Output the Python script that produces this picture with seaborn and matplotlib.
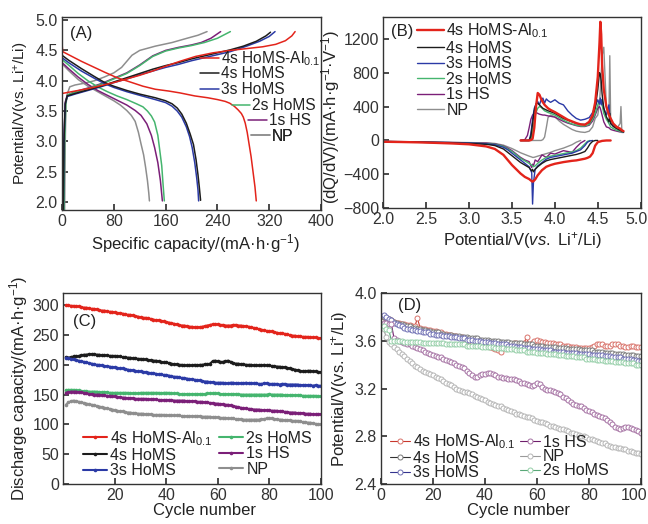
import numpy as np
import matplotlib
matplotlib.use("Agg")
import matplotlib.pyplot as plt
from matplotlib.transforms import ScaledTranslation
import seaborn as sns

names = ["4s HoMS-Al$_{0.1}$", "4s HoMS", "3s HoMS", "2s HoMS", "1s HS", "NP"]
colors = ["#e3241b", "#1c1c1c", "#2b3aa6", "#45b56e", "#7b1f78", "#8e8e8e"]

# ---- (A) charge / discharge profiles: capacity (mAh/g), potential (V)
a_dis_cap = [
    [0, 1, 10, 30, 50, 66, 85, 108, 125, 144, 165, 182, 205, 225, 240, 252, 259, 266, 272, 277, 280, 283, 286, 289, 292, 295, 298, 300],
    [0, 10, 30, 50, 66, 80, 100, 120, 144, 160, 170, 178, 185, 192, 198, 203, 207, 210, 212, 214],
    [0, 10, 30, 50, 66, 80, 100, 120, 144, 160, 170, 178, 185, 192, 197, 201, 205, 208, 210, 211],
    [0, 10, 25, 40, 55, 70, 85, 100, 115, 125, 132, 138, 143, 148, 151, 154, 156, 158],
    [0, 10, 25, 40, 55, 70, 85, 100, 113, 122, 131, 138, 143, 148, 152, 155],
    [0, 10, 25, 40, 55, 70, 80, 90, 100, 107, 113, 118, 122, 126, 129, 132, 134, 135],
]
a_dis_v = [
    [4.62, 4.48, 4.43, 4.32, 4.22, 4.14, 4.05, 3.97, 3.91, 3.86, 3.83, 3.80, 3.75, 3.72, 3.69, 3.66, 3.63, 3.58, 3.52, 3.46, 3.40, 3.30, 3.15, 2.95, 2.75, 2.50, 2.25, 2.02],
    [4.42, 4.34, 4.20, 4.07, 3.97, 3.91, 3.84, 3.78, 3.72, 3.67, 3.62, 3.55, 3.45, 3.30, 3.12, 2.95, 2.70, 2.45, 2.25, 2.03],
    [4.38, 4.30, 4.16, 4.04, 3.95, 3.89, 3.82, 3.76, 3.69, 3.64, 3.58, 3.50, 3.40, 3.24, 3.08, 2.90, 2.65, 2.40, 2.20, 2.02],
    [4.35, 4.26, 4.12, 4.00, 3.90, 3.82, 3.75, 3.69, 3.62, 3.57, 3.50, 3.42, 3.32, 3.10, 2.85, 2.60, 2.30, 2.02],
    [4.30, 4.20, 4.06, 3.94, 3.84, 3.76, 3.68, 3.60, 3.51, 3.43, 3.29, 3.10, 2.90, 2.65, 2.35, 2.02],
    [4.28, 4.17, 4.02, 3.91, 3.82, 3.73, 3.67, 3.60, 3.51, 3.43, 3.33, 3.15, 2.96, 2.78, 2.58, 2.35, 2.15, 2.02],
]
a_chg_cap = [
    [0, 20, 40, 60, 80, 100, 120, 140, 160, 182, 206, 233, 260, 285, 310, 330, 345, 355, 360],
    [2, 3, 5, 8, 20, 40, 60, 80, 100, 120, 140, 160, 180, 200, 220, 240, 260, 280, 300, 315, 322],
    [2, 3, 5, 8, 20, 40, 60, 80, 100, 120, 140, 160, 180, 200, 220, 240, 260, 285, 305, 320, 329],
    [3, 4, 6, 9, 20, 40, 60, 80, 100, 120, 140, 160, 180, 200, 220, 240, 260],
    [2, 3, 5, 8, 20, 40, 60, 80, 100, 120, 140, 160, 180, 200, 215, 230, 245],
    [4, 5, 6, 8, 12, 20, 35, 50, 65, 80, 92, 100, 108, 120, 144, 170, 193, 210, 224],
]
a_chg_v = [
    [3.79, 3.83, 3.87, 3.92, 3.97, 4.03, 4.09, 4.16, 4.24, 4.32, 4.40, 4.46, 4.50, 4.53, 4.56, 4.60, 4.66, 4.74, 4.81],
    [1.85, 3.00, 3.62, 3.75, 3.79, 3.85, 3.91, 3.98, 4.05, 4.12, 4.19, 4.25, 4.30, 4.36, 4.41, 4.46, 4.51, 4.57, 4.65, 4.74, 4.80],
    [1.85, 3.00, 3.62, 3.74, 3.78, 3.84, 3.90, 3.97, 4.03, 4.10, 4.16, 4.22, 4.27, 4.33, 4.38, 4.43, 4.48, 4.57, 4.65, 4.73, 4.81],
    [1.85, 3.00, 3.65, 3.77, 3.81, 3.87, 3.94, 4.03, 4.12, 4.25, 4.40, 4.49, 4.54, 4.58, 4.63, 4.70, 4.81],
    [1.85, 3.00, 3.65, 3.76, 3.82, 3.88, 3.95, 4.04, 4.13, 4.26, 4.41, 4.50, 4.55, 4.59, 4.63, 4.70, 4.81],
    [1.85, 3.00, 3.60, 3.78, 3.90, 3.93, 3.96, 4.00, 4.06, 4.13, 4.22, 4.32, 4.42, 4.50, 4.57, 4.63, 4.70, 4.75, 4.81],
]

# ---- (B) dQ/dV
b_chg_v = [3.60, 3.65, 3.68, 3.70, 3.72, 3.74, 3.76, 3.78, 3.80, 3.82, 3.84, 3.86, 3.88, 3.90, 3.92, 3.95,
           4.00, 4.05, 4.10, 4.15, 4.20, 4.25, 4.30, 4.35, 4.40, 4.44, 4.47, 4.50, 4.52, 4.53, 4.54, 4.55,
           4.57, 4.60, 4.63, 4.64, 4.65, 4.68, 4.72, 4.76, 4.77, 4.78, 4.80]
b_chg = [
    [0, 0, 0, 0, 5, 20, 150, 400, 560, 540, 490, 450, 420, 400, 380, 360,
     335, 305, 275, 245, 225, 205, 190, 185, 220, 300, 450, 750, 1150, 1400, 1250, 900,
     600, 400, 300, 280, 260, 200, 160, 140, 130, 120, 110],
    [0, 0, 0, 0, 50, 200, 350, 430, 440, 420, 400, 380, 370, 360, 350, 340,
     320, 290, 260, 240, 220, 200, 190, 190, 210, 280, 380, 600, 800, 780, 700, 550,
     380, 280, 220, 320, 200, 170, 140, 120, 115, 110, 100],
    [0, 0, 0, 0, 80, 250, 380, 430, 460, 420, 480, 500, 440, 490, 470, 450,
     480, 440, 420, 350, 300, 260, 240, 250, 270, 330, 400, 480, 430, 500, 420, 480,
     380, 300, 420, 250, 200, 170, 150, 130, 120, 110, 100],
    [0, 0, 0, 0, 10, 100, 250, 330, 380, 400, 390, 370, 350, 340, 330, 320,
     300, 270, 240, 215, 195, 180, 170, 170, 190, 250, 320, 420, 470, 450, 480, 420,
     320, 250, 200, 180, 160, 140, 120, 110, 105, 100, 95],
    [0, 10, 60, 150, 250, 300, 320, 330, 320, 310, 305, 300, 300, 295, 290, 285,
     275, 250, 225, 205, 190, 175, 165, 165, 180, 230, 300, 380, 400, 380, 340, 300,
     220, 160, 150, 140, 130, 120, 110, 100, 100, 95, 95],
    [0, 0, 0, 0, 0, 0, 0, 0, 0, 0, 0, 10, 40, 150, 270, 300,
     280, 230, 190, 160, 130, 110, 100, 95, 110, 160, 260, 300, 450, 600, 800, 1000,
     1100, 400, 300, 1000, 250, 160, 140, 200, 400, 130, 100],
]
b_dis_v = [4.65, 4.60, 4.55, 4.50, 4.47, 4.44, 4.41, 4.38, 4.35, 4.30, 4.25, 4.20, 4.10, 4.00, 3.95, 3.90,
           3.85, 3.80, 3.77, 3.75, 3.74, 3.73, 3.70, 3.65, 3.60, 3.55, 3.50, 3.45, 3.40, 3.30, 3.20,
           3.00, 2.80, 2.60, 2.40, 2.20, 2.00]
nan = np.nan
b_dis = [
    [0, 0, -5, -20, -60, -150, -190, -205, -215, -225, -235, -240, -255, -275, -290, -310,
     -350, -410, -460, -480, -485, -480, -455, -430, -390, -340, -290, -230, -170, -100, -70,
     -45, -35, -28, -22, -18, -15],
    [nan, nan, nan, 0, 0, -10, -40, -90, -130, -150, -165, -175, -195, -215, -225, -240,
     -270, -310, -340, -370, -340, -360, -320, -290, -260, -220, -180, -140, -100, -60, -45,
     -35, -30, -25, -20, -16, -13],
    [nan, nan, nan, nan, nan, 0, -5, -20, -60, -110, -130, -150, -170, -190, -200, -220,
     -260, -300, -340, -500, -750, -380, -310, -270, -230, -190, -150, -110, -80, -50, -40,
     -30, -26, -22, -18, -15, -12],
    [nan, nan, nan, nan, nan, nan, 0, -10, -40, -90, -120, -135, -155, -175, -185, -200,
     -230, -270, -300, -310, -300, -290, -270, -240, -210, -170, -130, -100, -70, -45, -38,
     -30, -26, -22, -18, -15, -12],
    [nan, nan, nan, nan, nan, nan, nan, nan, 0, -30, -80, -140, -120, -160, -150, -200,
     -170, -250, -230, -300, -280, -320, -250, -230, -200, -160, -120, -90, -65, -40, -32,
     -28, -24, -20, -17, -14, -12],
    [nan, nan, nan, nan, nan, nan, nan, nan, nan, 0, -20, -50, -90, -120, -140, -155,
     -170, -185, -195, -200, -200, -195, -185, -165, -145, -120, -95, -75, -55, -35, -28,
     -25, -22, -19, -16, -13, -11],
]

# ---- (C) discharge capacity vs cycle
cycles = list(range(1, 101))
c_cap = [
    [300, 300, 299, 299, 298, 298, 297, 296, 296, 295, 294, 294, 293, 292, 291, 291, 290, 289, 289, 288,
     287, 287, 286, 285, 284, 284, 283, 282, 281, 280, 279, 279, 278, 277, 276, 275, 275, 274, 273, 272,
     271, 270, 269, 268, 267, 266, 266, 265, 264, 264, 263, 263, 263, 264, 265, 266, 267, 268, 268, 268,
     267, 267, 266, 266, 266, 267, 267, 266, 266, 265, 265, 264, 263, 262, 261, 260, 259, 258, 257, 256,
     256, 255, 254, 253, 253, 252, 251, 250, 249, 249, 248, 248, 247, 247, 247, 246, 246, 246, 245, 245],
    [213, 212, 213, 214, 214, 215, 216, 217, 217, 218, 218, 218, 217, 217, 216, 216, 216, 215, 215, 215,
     214, 214, 213, 213, 212, 212, 211, 211, 210, 210, 209, 209, 208, 208, 207, 207, 206, 205, 204, 204,
     203, 202, 201, 201, 200, 200, 199, 199, 199, 199, 200, 199, 200, 200, 201, 201, 202, 206, 207, 206,
     205, 205, 206, 207, 205, 203, 202, 202, 201, 201, 200, 200, 200, 199, 199, 199, 199, 200, 199, 199,
     198, 198, 197, 197, 196, 196, 195, 194, 193, 192, 191, 190, 189, 189, 190, 190, 189, 189, 188, 188],
    [212, 211, 210, 209, 208, 207, 206, 205, 204, 203, 202, 201, 200, 200, 199, 198, 198, 197, 196, 196,
     195, 194, 194, 193, 192, 191, 191, 190, 189, 189, 188, 188, 187, 186, 186, 185, 184, 184, 183, 183,
     182, 181, 180, 180, 179, 178, 178, 177, 176, 176, 175, 174, 174, 173, 172, 172, 171, 171, 170, 170,
     170, 170, 169, 169, 170, 170, 169, 169, 169, 169, 170, 169, 169, 169, 169, 168, 168, 169, 169, 168,
     168, 168, 168, 167, 168, 168, 167, 167, 167, 167, 167, 166, 166, 166, 166, 166, 165, 166, 165, 165],
    [157, 158, 158, 158, 157, 157, 156, 156, 156, 155, 155, 155, 155, 154, 154, 154, 154, 153, 153, 153,
     153, 153, 153, 153, 153, 152, 152, 152, 152, 153, 153, 153, 153, 153, 153, 153, 153, 152, 153, 153,
     153, 152, 152, 152, 151, 151, 151, 151, 151, 151, 151, 151, 151, 151, 151, 152, 152, 152, 152, 152,
     151, 151, 151, 151, 151, 151, 151, 151, 150, 150, 150, 150, 150, 150, 150, 150, 150, 150, 150, 151,
     150, 150, 150, 150, 150, 149, 149, 149, 149, 149, 149, 149, 148, 148, 148, 148, 148, 148, 147, 147],
    [153, 154, 155, 155, 155, 154, 154, 153, 152, 151, 151, 150, 150, 150, 149, 149, 148, 148, 147, 147,
     146, 146, 145, 145, 144, 144, 144, 143, 143, 143, 143, 143, 142, 142, 142, 142, 141, 141, 141, 141,
     141, 141, 140, 140, 140, 140, 140, 139, 139, 139, 139, 138, 138, 138, 137, 137, 136, 136, 135, 135,
     134, 134, 133, 133, 132, 131, 130, 129, 128, 127, 127, 126, 126, 125, 125, 125, 124, 124, 124, 124,
     123, 123, 123, 122, 122, 121, 121, 120, 120, 120, 119, 119, 119, 118, 118, 118, 117, 117, 117, 117],
    [133, 137, 139, 140, 139, 138, 137, 136, 135, 134, 133, 132, 131, 130, 129, 128, 127, 126, 125, 124,
     123, 122, 122, 121, 120, 120, 119, 119, 118, 118, 118, 117, 117, 117, 116, 116, 116, 116, 116, 115,
     115, 115, 115, 115, 115, 114, 114, 114, 114, 114, 114, 114, 114, 113, 113, 113, 113, 112, 112, 112,
     111, 111, 111, 110, 110, 110, 109, 109, 109, 108, 108, 108, 108, 108, 108, 108, 109, 109, 110, 110,
     110, 109, 109, 108, 108, 107, 107, 107, 106, 106, 106, 105, 104, 104, 103, 103, 102, 101, 100, 100],
]

# ---- (D) mean discharge potential vs cycle
d_names = [names[0], names[1], names[2], names[4], names[5], names[3]]
d_line = ["#c8372d", "#333333", "#34348f", "#6e1e6b", "#9a9a9a", "#5aa878"]
d_edge = ["#d9736b", "#7a7a7a", "#7070b4", "#a673a4", "#b5b5b5", "#95cfa8"]
d_pot = [
    [3.80, 3.79, 3.78, 3.77, 3.76, 3.75, 3.75, 3.74, 3.74, 3.73, 3.73, 3.72, 3.72, 3.79, 3.71, 3.70, 3.70, 3.69, 3.69, 3.68,
     3.68, 3.67, 3.67, 3.66, 3.66, 3.65, 3.65, 3.64, 3.64, 3.63, 3.63, 3.62, 3.61, 3.60, 3.59, 3.58, 3.58, 3.57, 3.57, 3.56,
     3.56, 3.55, 3.54, 3.53, 3.52, 3.51, 3.56, 3.57, 3.57, 3.57, 3.58, 3.58, 3.57, 3.57, 3.58, 3.63, 3.56, 3.58, 3.60, 3.61,
     3.60, 3.59, 3.59, 3.58, 3.58, 3.58, 3.57, 3.57, 3.57, 3.56, 3.56, 3.56, 3.55, 3.55, 3.55, 3.54, 3.54, 3.54, 3.54, 3.54,
     3.55, 3.56, 3.57, 3.57, 3.57, 3.56, 3.56, 3.56, 3.57, 3.57, 3.57, 3.56, 3.56, 3.55, 3.55, 3.56, 3.56, 3.55, 3.55, 3.55],
    [3.80, 3.79, 3.78, 3.77, 3.76, 3.75, 3.74, 3.74, 3.73, 3.72, 3.72, 3.71, 3.71, 3.70, 3.70, 3.69, 3.69, 3.68, 3.68, 3.67,
     3.67, 3.67, 3.66, 3.66, 3.65, 3.65, 3.65, 3.64, 3.64, 3.64, 3.63, 3.63, 3.63, 3.62, 3.62, 3.62, 3.62, 3.61, 3.61, 3.61,
     3.61, 3.60, 3.60, 3.60, 3.60, 3.59, 3.59, 3.59, 3.59, 3.58, 3.58, 3.58, 3.58, 3.58, 3.57, 3.57, 3.57, 3.57, 3.56, 3.56,
     3.56, 3.56, 3.55, 3.55, 3.55, 3.55, 3.55, 3.54, 3.54, 3.54, 3.54, 3.53, 3.53, 3.53, 3.53, 3.53, 3.52, 3.52, 3.52, 3.52,
     3.52, 3.51, 3.51, 3.51, 3.51, 3.50, 3.50, 3.50, 3.50, 3.49, 3.49, 3.49, 3.49, 3.48, 3.48, 3.48, 3.48, 3.47, 3.47, 3.47],
    [3.82, 3.80, 3.78, 3.77, 3.75, 3.74, 3.73, 3.72, 3.71, 3.70, 3.70, 3.69, 3.69, 3.68, 3.68, 3.67, 3.67, 3.67, 3.66, 3.66,
     3.65, 3.65, 3.65, 3.64, 3.64, 3.64, 3.63, 3.63, 3.63, 3.62, 3.62, 3.62, 3.61, 3.61, 3.61, 3.60, 3.60, 3.60, 3.59, 3.59,
     3.59, 3.58, 3.58, 3.58, 3.57, 3.57, 3.57, 3.57, 3.56, 3.56, 3.56, 3.55, 3.55, 3.55, 3.54, 3.54, 3.54, 3.53, 3.53, 3.53,
     3.53, 3.52, 3.52, 3.52, 3.52, 3.51, 3.51, 3.51, 3.51, 3.51, 3.50, 3.50, 3.50, 3.50, 3.50, 3.49, 3.49, 3.49, 3.49, 3.49,
     3.48, 3.48, 3.48, 3.48, 3.48, 3.47, 3.47, 3.47, 3.46, 3.46, 3.46, 3.46, 3.45, 3.45, 3.45, 3.45, 3.44, 3.44, 3.43, 3.43],
    [3.75, 3.75, 3.74, 3.74, 3.62, 3.61, 3.60, 3.59, 3.58, 3.57, 3.57, 3.56, 3.55, 3.54, 3.53, 3.52, 3.51, 3.50, 3.49, 3.48,
     3.47, 3.46, 3.46, 3.45, 3.44, 3.43, 3.42, 3.41, 3.40, 3.39, 3.38, 3.37, 3.35, 3.33, 3.31, 3.30, 3.30, 3.31, 3.32, 3.32,
     3.33, 3.33, 3.32, 3.31, 3.30, 3.30, 3.29, 3.29, 3.28, 3.28, 3.28, 3.27, 3.26, 3.25, 3.25, 3.24, 3.23, 3.22, 3.23, 3.25,
     3.24, 3.21, 3.20, 3.19, 3.19, 3.18, 3.17, 3.16, 3.15, 3.13, 3.12, 3.10, 3.09, 3.07, 3.06, 3.05, 3.05, 3.04, 3.02, 3.01,
     3.00, 2.99, 2.98, 2.97, 2.96, 2.95, 2.94, 2.92, 2.90, 2.88, 2.87, 2.86, 2.87, 2.88, 2.88, 2.87, 2.86, 2.85, 2.84, 2.83],
    [3.70, 3.63, 3.59, 3.57, 3.55, 3.53, 3.51, 3.49, 3.47, 3.45, 3.43, 3.41, 3.39, 3.38, 3.36, 3.35, 3.34, 3.33, 3.32, 3.31,
     3.30, 3.29, 3.28, 3.26, 3.25, 3.24, 3.23, 3.21, 3.20, 3.19, 3.18, 3.17, 3.17, 3.16, 3.15, 3.14, 3.13, 3.12, 3.11, 3.10,
     3.09, 3.08, 3.07, 3.06, 3.05, 3.05, 3.04, 3.03, 3.02, 3.01, 3.00, 2.99, 2.99, 2.98, 2.97, 2.96, 2.96, 2.95, 2.94, 2.93,
     2.92, 2.92, 2.91, 2.90, 2.89, 2.89, 2.88, 2.87, 2.86, 2.86, 2.85, 2.84, 2.83, 2.83, 2.82, 2.81, 2.80, 2.80, 2.79, 2.78,
     2.78, 2.77, 2.76, 2.75, 2.74, 2.74, 2.73, 2.72, 2.71, 2.71, 2.70, 2.70, 2.69, 2.69, 2.68, 2.68, 2.67, 2.66, 2.66, 2.65],
    [3.72, 3.70, 3.69, 3.60, 3.60, 3.60, 3.60, 3.60, 3.59, 3.59, 3.59, 3.59, 3.59, 3.59, 3.59, 3.58, 3.58, 3.58, 3.58, 3.58,
     3.58, 3.58, 3.58, 3.58, 3.57, 3.57, 3.57, 3.57, 3.57, 3.57, 3.57, 3.57, 3.56, 3.56, 3.56, 3.56, 3.56, 3.56, 3.55, 3.55,
     3.55, 3.55, 3.55, 3.54, 3.54, 3.54, 3.54, 3.53, 3.53, 3.53, 3.53, 3.52, 3.52, 3.52, 3.52, 3.51, 3.51, 3.51, 3.51, 3.50,
     3.50, 3.50, 3.50, 3.49, 3.49, 3.49, 3.49, 3.48, 3.48, 3.48, 3.47, 3.47, 3.47, 3.47, 3.46, 3.46, 3.46, 3.46, 3.45, 3.45,
     3.45, 3.45, 3.44, 3.44, 3.44, 3.43, 3.43, 3.43, 3.43, 3.42, 3.42, 3.42, 3.42, 3.41, 3.41, 3.41, 3.41, 3.40, 3.40, 3.40],
]

sns.set_theme(style="ticks")
plt.rcParams.update({
    "font.family": ["Liberation Sans", "DejaVu Sans"],
    "mathtext.fontset": "custom",
    "mathtext.rm": "Liberation Sans",
    "mathtext.it": "Liberation Sans:italic",
    "mathtext.bf": "Liberation Sans:bold",
    "font.size": 11.5,
    "axes.labelsize": 12,
    "xtick.labelsize": 11.5,
    "ytick.labelsize": 11.5,
    "xtick.direction": "in",
    "ytick.direction": "in",
    "xtick.major.size": 4,
    "ytick.major.size": 4,
    "xtick.major.pad": 3,
    "ytick.major.pad": 3,
    "axes.edgecolor": "#333333",
    "axes.linewidth": 1.0,
    "xtick.color": "#333333",
    "ytick.color": "#333333",
    "axes.labelcolor": "#222222",
    "text.color": "#222222",
})

fig = plt.figure(figsize=(6.48, 5.24), dpi=100)
axA = fig.add_axes([0.0957, 0.5992, 0.3997, 0.3683])
axB = fig.add_axes([0.5915, 0.6025, 0.3972, 0.3656])
axC = fig.add_axes([0.0977, 0.0763, 0.3972, 0.3639])
axD = fig.add_axes([0.588, 0.0763, 0.4012, 0.3645])
ylab_pot = "Potential/V(vs. Li$^{+}$/Li)"


def nudge_last_xlabel(ax, dx_px):
    lab = ax.get_xticklabels()[-1]
    lab.set_transform(lab.get_transform() + ScaledTranslation(dx_px / 100, 0, fig.dpi_scale_trans))


# (A)
hA = []
for i in range(5, -1, -1):
    sns.lineplot(x=a_dis_cap[i], y=a_dis_v[i], ax=axA, color=colors[i], lw=1.1, sort=False,
                 estimator=None, legend=False)
    sns.lineplot(x=a_chg_cap[i], y=a_chg_v[i], ax=axA, color=colors[i], lw=1.1, sort=False,
                 estimator=None, legend=False, label=names[i])
    hA.append(axA.lines[-1])
hA = hA[::-1]
axA.set_xlim(0, 400)
axA.set_ylim(1.87, 5.05)
axA.set_xticks(range(0, 401, 80))
axA.set_yticks(np.arange(2.0, 5.01, 0.5))
axA.yaxis.set_major_formatter(matplotlib.ticker.FormatStrFormatter("%.1f"))
axA.set_xlabel("Specific capacity/(mA·h·g$^{-1}$)", labelpad=2)
axA.xaxis.label.set_x(0.517)
axA.set_ylabel(ylab_pot, labelpad=3, fontsize=11)
axA.text(0.031, 0.917, "(A)", transform=axA.transAxes, ha="left", va="center", fontsize=12)
leg_pos = [(0.533, 0.785), (0.533, 0.705), (0.533, 0.622), (0.655, 0.540), (0.72, 0.462), (0.73, 0.383)]
for h, lab, (lx, ly) in zip(hA, names, leg_pos):
    lg = axA.legend([h], [lab], loc="center left", bbox_to_anchor=(lx, ly), frameon=False,
                    borderpad=0, borderaxespad=0, handlelength=1.2, handletextpad=0.12, fontsize=11.2)
    axA.add_artist(lg)

# (B)
hB = []
for i in range(5, -1, -1):
    lw = 1.7 if i == 0 else 1.0
    sns.lineplot(x=b_dis_v, y=b_dis[i], ax=axB, color=colors[i], lw=lw, sort=False,
                 estimator=None, legend=False)
    sns.lineplot(x=b_chg_v, y=b_chg[i], ax=axB, color=colors[i], lw=lw, sort=False,
                 estimator=None, legend=False, label=names[i])
    hB.append(axB.lines[-1])
hB = hB[::-1]
axB.set_xlim(2.0, 5.0)
axB.set_ylim(-800, 1460)
axB.set_xticks(np.arange(2.0, 5.01, 0.5))
axB.set_yticks(range(-800, 1201, 400))
axB.xaxis.set_major_formatter(matplotlib.ticker.FormatStrFormatter("%.1f"))
axB.set_xlabel("Potential/V($\\it{vs.}$ Li$^{+}$/Li)", labelpad=2)
axB.xaxis.label.set_x(0.54)
axB.set_ylabel("(dQ/dV)/(mA·h·g$^{-1}$·V$^{-1}$)", labelpad=1)
axB.yaxis.label.set_y(0.475)
axB.text(0.03, 0.924, "(B)", transform=axB.transAxes, ha="left", va="center", fontsize=12)
axB.legend(hB, names, loc="upper left", bbox_to_anchor=(0.13, 0.975), frameon=False,
           borderpad=0, borderaxespad=0, handlelength=1.7, handletextpad=0.15, labelspacing=0.03,
           fontsize=11.5)

# (C)
for i in range(6):
    sns.lineplot(x=cycles, y=c_cap[i], ax=axC, color=colors[i], lw=1.5, marker="o", markersize=2.6,
                 markeredgewidth=0, estimator=None, legend=False, label=names[i])
axC.set_xlim(0, 100)
axC.set_ylim(0, 320)
axC.set_xticks(range(20, 101, 20))
axC.set_yticks(range(0, 301, 50))
axC.set_xlabel("Cycle number", labelpad=0)
axC.xaxis.label.set_x(0.549)
axC.set_ylabel("Discharge capacity/(mA·h·g$^{-1}$)", labelpad=2)
axC.text(0.038, 0.851, "(C)", transform=axC.transAxes, ha="left", va="center", fontsize=12)
axC.legend(ncol=2, loc="lower left", bbox_to_anchor=(0.0765, 0.03), frameon=False, borderpad=0,
           borderaxespad=0, handlelength=1.5, handletextpad=0.2, labelspacing=0.02,
           columnspacing=0.4, fontsize=11.5)

# (D)
for i in range(6):
    sns.lineplot(x=cycles, y=d_pot[i], ax=axD, color=d_line[i], lw=0.8, marker="o", markersize=3.6,
                 markerfacecolor="white", markeredgecolor=d_edge[i], markeredgewidth=0.7,
                 estimator=None, legend=False, label=d_names[i])
axD.set_xlim(0, 100)
axD.set_ylim(2.4, 4.0)
axD.set_xticks(range(0, 101, 20))
axD.set_yticks(np.arange(2.4, 4.01, 0.4))
axD.yaxis.set_major_formatter(matplotlib.ticker.FormatStrFormatter("%.1f"))
axD.set_xlabel("Cycle number", labelpad=0)
axD.xaxis.label.set_x(0.53)
axD.set_ylabel(ylab_pot, labelpad=3)
axD.text(0.065, 0.937, "(D)", transform=axD.transAxes, ha="left", va="center", fontsize=12)
axD.legend(ncol=2, loc="lower left", bbox_to_anchor=(0.035, 0.02), frameon=False, borderpad=0,
           borderaxespad=0, handlelength=1.25, handletextpad=0.2, labelspacing=-0.04,
           columnspacing=0.25, fontsize=11.5)

nudge_last_xlabel(axB, -4)
nudge_last_xlabel(axD, -7)

fig.savefig("out.png", dpi=100)
